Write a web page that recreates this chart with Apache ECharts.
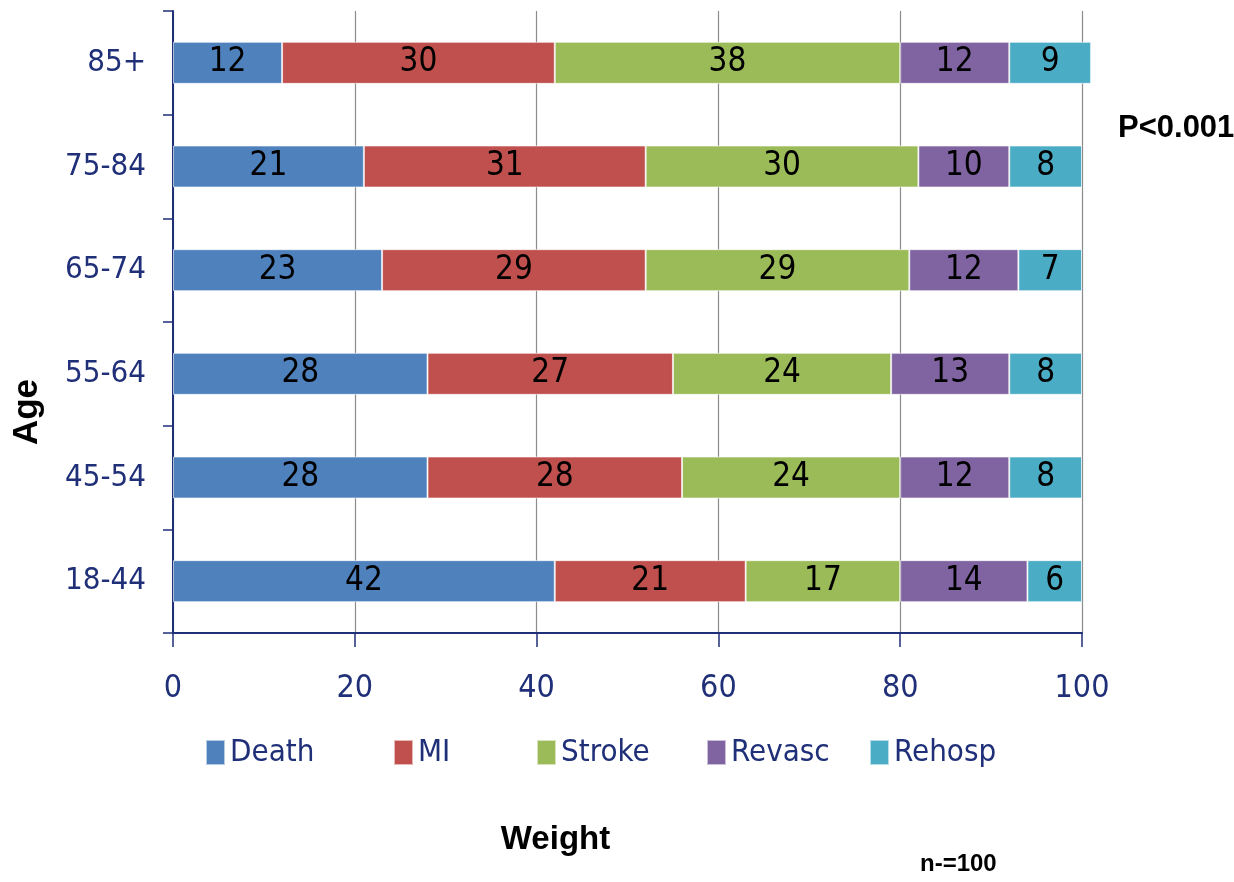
<!DOCTYPE html>
<html>
<head>
<meta charset="utf-8">
<script src="https://cdn.jsdelivr.net/npm/echarts@6/dist/echarts.min.js"></script>
<style>
  html, body { margin: 0; padding: 0; background: #fff; }
  #chart { width: 1234px; height: 882px; }
</style>
</head>
<body>
<div id="chart"></div>
<script>
// age groups, bottom to top
const ages = ['18-44', '45-54', '55-64', '65-74', '75-84', '85+']
const death  = [42, 28, 28, 23, 21, 12]
const mi     = [21, 28, 27, 29, 31, 30]
const stroke = [17, 24, 24, 29, 30, 38]
const revasc = [14, 12, 13, 12, 10, 12]
const rehosp = [6, 8, 8, 7, 8, 9]
const xTicks = [0, 20, 40, 60, 80, 100]

const NAVY = '#1f2f78'
const FONT = '"DejaVu Sans Condensed", Lato, sans-serif'
const BOLD = '"Liberation Sans", Arial, sans-serif'

const seriesDefs = [
  { name: 'Death', data: death, color: '#4f81bd' },
  { name: 'MI', data: mi, color: '#c0504d' },
  { name: 'Stroke', data: stroke, color: '#9bbb59' },
  { name: 'Revasc', data: revasc, color: '#8064a2' },
  { name: 'Rehosp', data: rehosp, color: '#4bacc6' }
]
const legendLeft = [205, 393, 536, 706, 869]

const chart = echarts.init(document.getElementById('chart'))

chart.setOption({
  animation: false,
  backgroundColor: '#fff',
  grid: { left: 173, right: 152, top: 11, bottom: 249 },
  legend: seriesDefs.map((s, i) => ({
    data: [s.name],
    left: legendLeft[i],
    top: 737,
    padding: 0,
    itemWidth: 19,
    itemHeight: 25,
    itemGap: 8,
    icon: 'rect',
    textStyle: { fontFamily: FONT, fontSize: 31, color: NAVY }
  })),
  xAxis: {
    type: 'value',
    min: 0, max: 100, interval: 20,
    name: 'Weight',
    nameLocation: 'middle',
    nameGap: 190,
    nameTextStyle: { fontFamily: BOLD, fontSize: 33, fontWeight: 'bold', color: '#000', padding: [0, 144, 0, 0] },
    axisLine: { show: true, lineStyle: { color: NAVY, width: 2 } },
    axisTick: { show: true, length: 14, lineStyle: { color: NAVY, width: 1.5 } },
    axisLabel: {
      margin: 40,
      fontFamily: FONT, fontSize: 32, color: NAVY,
      formatter: v => xTicks.includes(v) ? String(v) : ''
    },
    splitLine: { show: true, lineStyle: { color: '#8c8c8c', width: 1.2 } }
  },
  yAxis: {
    type: 'category',
    data: ages,
    name: 'Age',
    nameLocation: 'middle',
    nameRotate: 90,
    nameGap: 128,
    nameTextStyle: { fontFamily: BOLD, fontSize: 35, fontWeight: 'bold', color: '#000', padding: [0, 180, 0, 0] },
    axisLine: { show: true, lineStyle: { color: NAVY, width: 2 } },
    axisTick: { show: true, length: 10, lineStyle: { color: NAVY, width: 1.5 } },
    axisLabel: { margin: 27, fontFamily: FONT, fontSize: 31, color: NAVY }
  },
  series: seriesDefs.map(s => ({
    name: s.name,
    type: 'bar',
    stack: 'total',
    barWidth: 42,
    clip: false,
    data: s.data,
    itemStyle: { color: s.color, borderColor: 'rgba(255,255,255,0.6)', borderWidth: 1 },
    label: {
      show: true,
      position: 'inside',
      fontFamily: FONT,
      fontSize: 33,
      color: '#000'
    }
  })),
  graphic: [
    {
      type: 'text',
      left: 1118, top: 113,
      style: { text: 'P<0.001', fontFamily: BOLD, fontSize: 31, fontWeight: 'bold', fill: '#000' }
    },
    {
      type: 'text',
      left: 920, top: 852,
      style: { text: 'n-=100', fontFamily: BOLD, fontSize: 24, fontWeight: 'bold', fill: '#000' }
    }
  ]
})
</script>
</body>
</html>
